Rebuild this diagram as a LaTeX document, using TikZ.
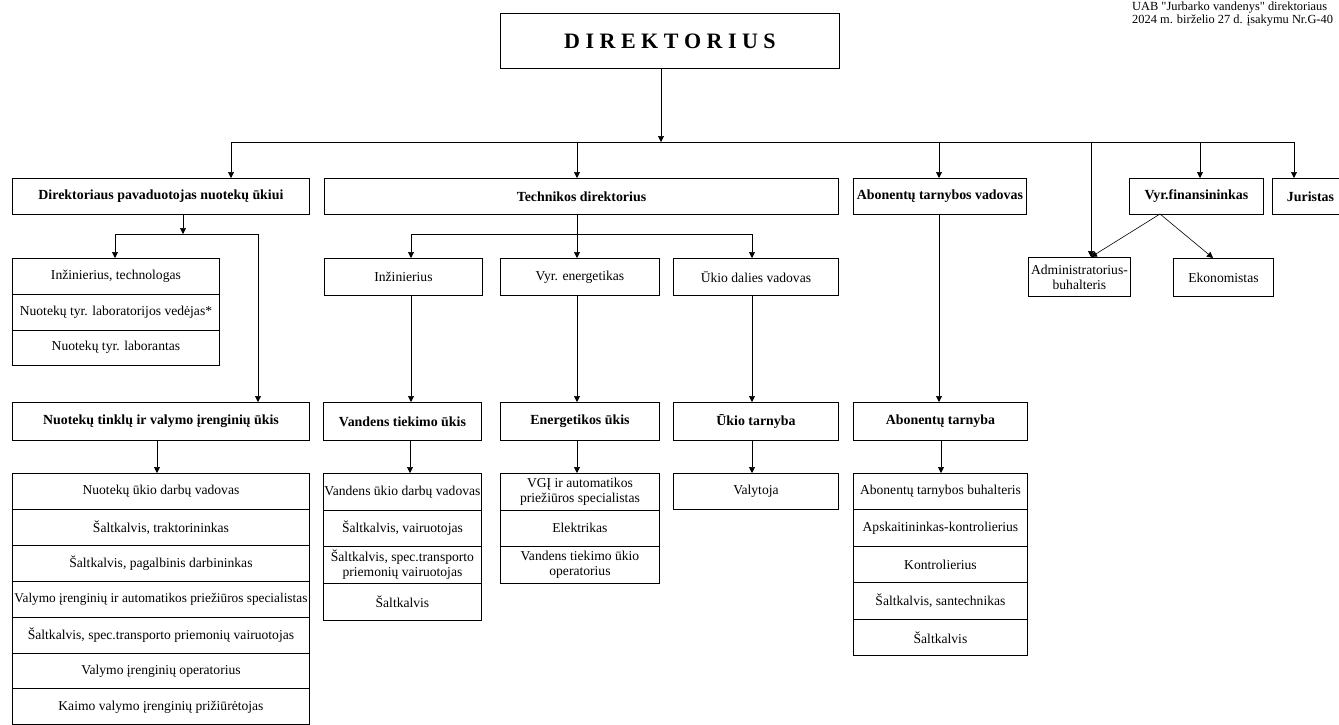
\documentclass[tikz,border=0pt]{standalone}
\usepackage{fontspec}
\setmainfont{Liberation Serif}
\usetikzlibrary{arrows.meta}
\newcommand\regfont{\fontsize{13.6}{15}\selectfont}
\newcommand\hdfont{\fontsize{13.9}{15.5}\selectfont\bfseries}
\newcommand\notefont{\fontsize{12.4}{14}\selectfont}
\tikzset{
  box/.style={draw, line width=0.9pt, anchor=north west, inner sep=0pt, align=center, font=\regfont},
  hbox/.style={box, font=\hdfont},
  conn/.style={line width=0.6pt},
  arr/.style={conn, -{Triangle[length=6pt,width=6pt]}},
}
\begin{document}
\begin{tikzpicture}[x=1pt,y=-1pt]
\useasboundingbox (0,0) rectangle (1339,725);
% note
\node[anchor=base west, font=\notefont, inner sep=0pt] (note1) at (1132,11) {UAB \textquotedbl Jurbarko vandenys\textquotedbl{} direktoriaus};
\node[anchor=base west, font=\notefont, inner sep=0pt] (note2) at (1132,24) {2024 m. birželio 27 d. įsakymu Nr.G-40};
% top
\node[hbox, minimum width=339pt, minimum height=55pt, font=\fontsize{22}{24}\selectfont\bfseries] (dir) at (500,13) {D I R E K T O R I U S};
% level 2
\node[hbox, minimum width=297pt, minimum height=36pt] (pav) at (12,178) {Direktoriaus pavaduotojas nuotekų ūkiui};
\node[hbox, minimum width=514pt, minimum height=36pt] (tech) at (324,178) {Technikos direktorius};
\node[hbox, minimum width=173pt, minimum height=36pt] (abon) at (853,178) {Abonentų tarnybos vadovas};
\node[hbox, minimum width=134pt, minimum height=36pt] (fin) at (1129,178) {Vyr.finansininkas};
\node[hbox, minimum width=76pt, minimum height=36pt] (jur) at (1272,178) {Juristas};
% pavaduotojas stack
\node[box, minimum width=207pt, minimum height=36pt] (p1) at (12,258) {Inžinierius, technologas};
\node[box, minimum width=207pt, minimum height=35.5pt] (p2) at (12,294) {Nuotekų tyr. laboratorijos vedėjas*};
\node[box, minimum width=207pt, minimum height=35.5pt] (p3) at (12,329.5) {Nuotekų tyr. laborantas};
% technikos children
\node[box, minimum width=158pt, minimum height=37pt] (inz) at (324,258) {Inžinierius};
\node[box, minimum width=159pt, minimum height=37pt] (vyr) at (500,258) {Vyr. energetikas};
\node[box, minimum width=165pt, minimum height=37pt] (ukd) at (673,258) {Ūkio dalies vadovas};
% finance children
\node[box, minimum width=102pt, minimum height=39pt] (adm) at (1028,257) {Administratorius-\\buhalteris};
\node[box, minimum width=100pt, minimum height=38pt] (eko) at (1173,258) {Ekonomistas};
% level 4
\node[hbox, minimum width=297pt, minimum height=38pt] (nt) at (12,402) {Nuotekų tinklų ir valymo įrenginių ūkis};
\node[hbox, minimum width=158pt, minimum height=38pt] (vt) at (323,402) {Vandens tiekimo ūkis};
\node[hbox, minimum width=159pt, minimum height=38pt] (en) at (500,402) {Energetikos ūkis};
\node[hbox, minimum width=165pt, minimum height=38pt] (ut) at (673,402) {Ūkio tarnyba};
\node[hbox, minimum width=174pt, minimum height=38pt] (at) at (853,402) {Abonentų tarnyba};
% nt stack
\node[box, minimum width=297pt, minimum height=35.9pt] (n1) at (12,473) {Nuotekų ūkio darbų vadovas};
\node[box, minimum width=297pt, minimum height=35.9pt] (n2) at (12,508.9) {Šaltkalvis, traktorininkas};
\node[box, minimum width=297pt, minimum height=35.9pt] (n3) at (12,544.8) {Šaltkalvis, pagalbinis darbininkas};
\node[box, minimum width=297pt, minimum height=35.9pt, font=\fontsize{13.3}{15}\selectfont] (n4) at (12,580.7) {Valymo įrenginių ir automatikos priežiūros specialistas};
\node[box, minimum width=297pt, minimum height=35.9pt] (n5) at (12,616.6) {Šaltkalvis, spec.transporto priemonių vairuotojas};
\node[box, minimum width=297pt, minimum height=35.9pt] (n6) at (12,652.5) {Valymo įrenginių operatorius};
\node[box, minimum width=297pt, minimum height=35.9pt] (n7) at (12,688.4) {Kaimo valymo įrenginių prižiūrėtojas};
% vt stack
\node[box, minimum width=158pt, minimum height=36.5pt] (v1) at (323,473) {Vandens ūkio darbų vadovas};
\node[box, minimum width=158pt, minimum height=36.5pt] (v2) at (323,509.5) {Šaltkalvis, vairuotojas};
\node[box, minimum width=158pt, minimum height=37pt] (v3) at (323,546) {Šaltkalvis, spec.transporto\\priemonių vairuotojas};
\node[box, minimum width=158pt, minimum height=37pt] (v4) at (323,583) {Šaltkalvis};
% en stack
\node[box, minimum width=159pt, minimum height=36.5pt] (e1) at (500,473) {VGĮ ir automatikos\\priežiūros specialistas};
\node[box, minimum width=159pt, minimum height=36.5pt] (e2) at (500,509.5) {Elektrikas};
\node[box, minimum width=159pt, minimum height=37pt] (e3) at (500,546) {Vandens tiekimo ūkio\\operatorius};
% ut stack
\node[box, minimum width=165pt, minimum height=36pt] (u1) at (673,473) {Valytoja};
% at stack
\node[box, minimum width=174pt, minimum height=36.4pt] (a1) at (853,473) {Abonentų tarnybos buhalteris};
\node[box, minimum width=174pt, minimum height=36.4pt] (a2) at (853,509.4) {Apskaitininkas-kontrolierius};
\node[box, minimum width=174pt, minimum height=36.4pt] (a3) at (853,545.8) {Kontrolierius};
\node[box, minimum width=174pt, minimum height=36.4pt] (a4) at (853,582.2) {Šaltkalvis, santechnikas};
\node[box, minimum width=174pt, minimum height=36.4pt] (a5) at (853,618.6) {Šaltkalvis};
% main bus
\coordinate (dout) at (661,142);
\coordinate (busL) at (231,142);
\coordinate (b2) at (577,142);
\coordinate (b3) at (939,142);
\coordinate (b4) at (1091,142);
\coordinate (b5) at (1200,142);
\coordinate (busR) at (1294,142);
\draw[conn] (busL) -- (busR);
\draw[arr] (dout |- dir.south) -- (dout);
\draw[arr] (busL) -- (busL |- pav.north);
\draw[arr] (b2) -- (b2 |- tech.north);
\draw[arr] (b3) -- (b3 |- abon.north);
\draw[arr] (b4) -- (b4 |- adm.north);
\draw[arr] (b5) -- (b5 |- fin.north);
\draw[arr] (busR) -- (busR |- jur.north);
% finance
\coordinate (fout) at (1160,214);
\coordinate (ekoin) at (1213,258);
\draw[arr] (fout) -- (b4 |- adm.north);
\draw[arr] (fout) -- (ekoin);
% pavaduotojas branch
\coordinate (pj) at (183,234);
\coordinate (pL) at (115,234);
\coordinate (pR) at (258,234);
\draw[arr] (pj |- pav.south) -- (pj);
\draw[conn] (pL) -- (pR);
\draw[arr] (pL) -- (pL |- p1.north);
\draw[arr] (pR) -- (pR |- nt.north);
% technikos branch
\coordinate (tL) at (411,234);
\coordinate (tM) at (577,234);
\coordinate (tR) at (752,234);
\draw[conn] (tL) -- (tR);
\draw[arr] (tM |- tech.south) -- (tM |- vyr.north);
\draw[arr] (tL) -- (tL |- inz.north);
\draw[arr] (tR) -- (tR |- ukd.north);
% level 3 to 4
\draw[arr] (tL |- inz.south) -- (tL |- vt.north);
\draw[arr] (tM |- vyr.south) -- (tM |- en.north);
\draw[arr] (tR |- ukd.south) -- (tR |- ut.north);
\draw[arr] (b3 |- abon.south) -- (b3 |- at.north);
% level 4 to 5
\coordinate (c1) at (157,0);
\coordinate (c2) at (410,0);
\coordinate (c3) at (577,0);
\coordinate (c4) at (752,0);
\coordinate (c5) at (941,0);
\draw[arr] (c1 |- nt.south) -- (c1 |- n1.north);
\draw[arr] (c2 |- vt.south) -- (c2 |- v1.north);
\draw[arr] (c3 |- en.south) -- (c3 |- e1.north);
\draw[arr] (c4 |- ut.south) -- (c4 |- u1.north);
\draw[arr] (c5 |- at.south) -- (c5 |- a1.north);
\end{tikzpicture}
\end{document}
